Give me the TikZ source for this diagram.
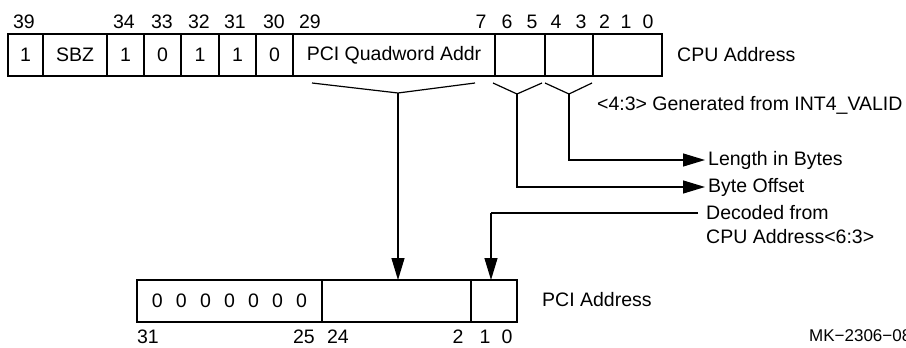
\documentclass[tikz,border=0pt]{standalone}
\usepackage{fontspec}
\setmainfont{Liberation Sans}
\usetikzlibrary{arrows.meta}
\newcommand{\zgap}{\hspace{13.2pt}}
\tikzset{
  every node/.style={font=\fontsize{19.5}{23}\selectfont, inner sep=0pt},
  cell/.style={draw, line width=1.2pt, minimum height=42pt},
  wire/.style={line width=1.2pt},
  arr/.style={wire, -{Triangle[length=22pt,width=13pt]}},
  small/.style={font=\fontsize{17}{20}\selectfont}
}
\begin{document}
\begin{tikzpicture}[x=1pt,y=-1pt]
\useasboundingbox (0,0) rectangle (906,348);
% top register cells
\node[cell, minimum width=35pt]  (c39) at (25.5,55) {1};
\node[cell, minimum width=64pt]  (csbz) at (75,55) {SBZ};
\node[cell, minimum width=37pt]  (c34) at (125.5,55) {1};
\node[cell, minimum width=37pt]  (c33) at (162.5,55) {0};
\node[cell, minimum width=38pt]  (c32) at (200,55) {1};
\node[cell, minimum width=37pt]  (c31) at (237.5,55) {1};
\node[cell, minimum width=37pt]  (c30) at (274.5,55) {0};
\node[cell, minimum width=202pt] (cq) at (394,55) {PCI Quadword Addr};
\node[cell, minimum width=50pt]  (c65) at (520,55) {};
\node[cell, minimum width=48pt]  (c43) at (569,55) {};
\node[cell, minimum width=69pt]  (c20) at (627.5,55) {};
% top bit numbers
\node (b39) at (24,21.5) {39};
\node (b34) at (124,21.5) {34};
\node (b33) at (162,21.5) {33};
\node (b32) at (199,21.5) {32};
\node (b31) at (235,21.5) {31};
\node (b30) at (274,21.5) {30};
\node (b29) at (310,21.5) {29};
\node (b7) at (481,21.5) {7};
\node (b6) at (507,21.5) {6};
\node (b5) at (532,21.5) {5};
\node (b4) at (556,21.5) {4};
\node (b3) at (581,21.5) {3};
\node (b2) at (604.5,21.5) {2};
\node (b1) at (626,21.5) {1};
\node (b0) at (648,21.5) {0};
\node[anchor=west] (cpu) at (677,55) {CPU Address};
\node[anchor=west] (gen) at (597,105) {<4:3> Generated from INT4\_VALID};
% brackets
\coordinate (qa) at (312,83); \coordinate (qv) at (398,93); \coordinate (qb) at (475,83);
\coordinate (oa) at (493,83); \coordinate (ov) at (517,94); \coordinate (ob) at (542,83);
\coordinate (la) at (545,83); \coordinate (lv) at (569,94); \coordinate (lb) at (592,83);
\draw[wire] (qa) -- (qv) -- (qb);
\draw[wire] (oa) -- (ov) -- (ob);
\draw[wire] (la) -- (lv) -- (lb);
% right labels
\node[anchor=west] (len) at (708,160) {Length in Bytes};
\node[anchor=west] (off) at (708,187) {Byte Offset};
\node[anchor=west] (dec1) at (706,213) {Decoded from};
\node[anchor=west] (dec2) at (706,237) {CPU Address<6:3>};
\draw[arr] (lv) |- ([xshift=-3pt]len.west);
\draw[arr] (ov) |- ([xshift=-3pt]off.west);
% bottom register
\node[cell, minimum width=185pt] (p31) at (229.5,301) {0\zgap0\zgap0\zgap0\zgap0\zgap0\zgap0};
\node[cell, minimum width=149pt] (p24) at (396.5,301) {};
\node[cell, minimum width=46pt]  (p10) at (494,301) {};
\node[anchor=west] (pci) at (542,300) {PCI Address};
\node (d31) at (148,337) {31};
\node (d25) at (304,337) {25};
\node (d24) at (338,337) {24};
\node (d2) at (458,337) {2};
\node (d1) at (485,337) {1};
\node (d0) at (507,337) {0};
\node[small, anchor=west] (mk) at (809,336) {MK{\char"2212}2306{\char"2212}08};
% arrows down
\coordinate (qt) at (398,280);
\coordinate (dt) at (491,280);
\coordinate (dc) at (491,213);
\draw[arr] (qv) -- (qt);
\draw[wire] ([xshift=-8pt]dec1.west) -- (dc);
\draw[arr] (dc) -- (dt);
\end{tikzpicture}
\end{document}
